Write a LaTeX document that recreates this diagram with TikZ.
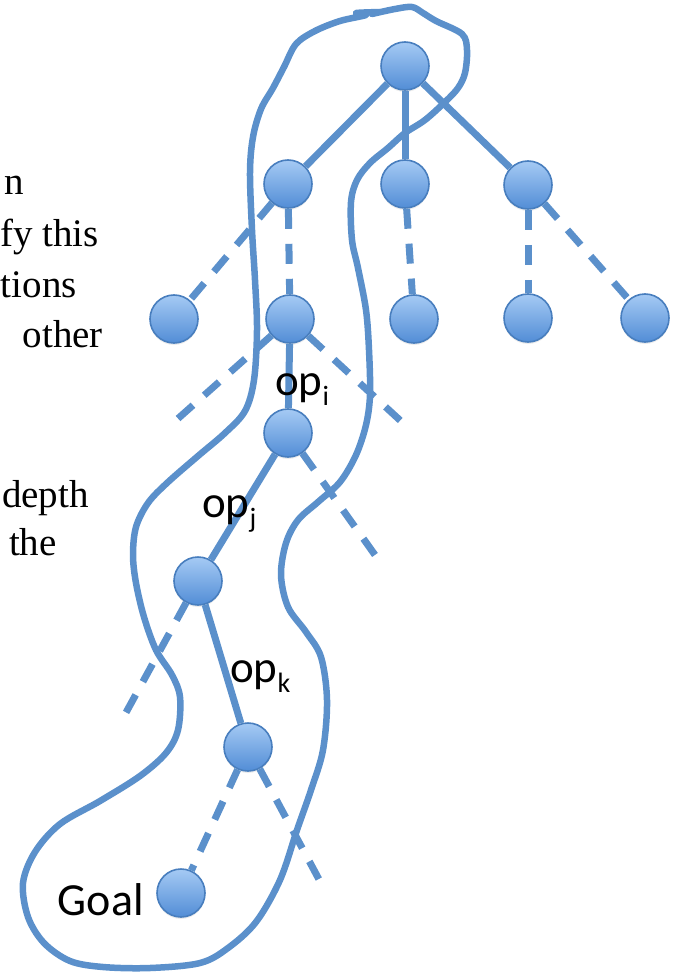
\documentclass[tikz,border=0pt]{standalone}
\usepackage{fontspec}
\setmainfont{Liberation Serif}
\newfontfamily\labelfont{Carlito}
\usetikzlibrary{shadows}

\definecolor{edgeblue}{RGB}{91,144,203}
\definecolor{balltop}{RGB}{165,202,244}
\definecolor{ballbottom}{RGB}{82,141,214}
\definecolor{ballrim}{RGB}{72,126,190}

\tikzset{
  ball/.style={circle, minimum size=48pt, inner sep=0pt, draw=ballrim,
    line width=1.6pt, top color=balltop, bottom color=ballbottom,
    drop shadow={opacity=0.15, shadow xshift=0pt, shadow yshift=-2pt}},
  solidedge/.style={draw=edgeblue, line width=7pt},
  dashededge/.style={draw=edgeblue, line width=7pt, dash pattern=on 20pt off 15pt},
  outline/.style={draw=edgeblue, line width=6.5pt, line join=round, line cap=round},
  oplabel/.style={anchor=base west, inner sep=0pt, font=\labelfont\fontsize{45}{45}\selectfont},
  sidetext/.style={anchor=base east, inner sep=0pt, font=\fontsize{39}{39}\selectfont}
}

\newcommand{\opsub}[1]{op\raisebox{-10pt}{\fontsize{28}{28}\selectfont #1}}

\begin{document}
\begin{tikzpicture}[x=1pt, y=-1pt]
\path[use as bounding box, clip] (0,0) rectangle (675,976);

% lines of body text on the left
\node[sidetext] (t1) at (24,195) {n};
\node[sidetext] (t2) at (99,247) {fy this};
\node[sidetext] (t3) at (77,297) {tions};
\node[sidetext] (t4) at (103,347) {other};
\node[sidetext] (t5) at (89,507) {depth};
\node[sidetext] (t6) at (57,555) {the};

% search tree
\node[ball] (root) at (405,66) {};
\node[ball] (a) at (288,184) {};
\node[ball] (b) at (405,184) {};
\node[ball] (c) at (528,185) {};
\node[ball] (d) at (174,319) {};
\node[ball] (e) at (290,319) {};
\node[ball] (f) at (414,319) {};
\node[ball] (g) at (528,318) {};
\node[ball] (h) at (645,318) {};
\node[ball] (i) at (288,433) {};
\node[ball] (j) at (198,581) {};
\node[ball] (k) at (248,747) {};
\node[ball] (goal) at (181,893) {};

% open ends of unexplored branches
\coordinate (e1) at (173,423);
\coordinate (e2) at (403,423);
\coordinate (i1) at (380,562);
\coordinate (j1) at (123,718);
\coordinate (k1) at (322,885);

\draw[solidedge] (root) -- (a);
\draw[solidedge] (root) -- (b);
\draw[solidedge] (root) -- (c);
\draw[dashededge] (a) -- (d);
\draw[dashededge] (a) -- (e);
\draw[dashededge] (b) -- (f);
\draw[dashededge] (c) -- (g);
\draw[dashededge] (c) -- (h);
\draw[solidedge] (e) -- (i);
\draw[dashededge] (e) -- (e1);
\draw[dashededge] (e) -- (e2);
\draw[solidedge] (i) -- (j);
\draw[dashededge] (i) -- (i1);
\draw[solidedge] (j) -- (k);
\draw[dashededge] (j) -- (j1);
\draw[dashededge] (k) -- (goal);
\draw[dashededge] (k) -- (k1);

% operator labels
\node[oplabel] (opi) at (275,395) {\opsub{i}};
\node[oplabel] (opj) at (202,517) {\opsub{j}};
\node[oplabel] (opk) at (230,682) {\opsub{k}};
\node[anchor=base east, inner sep=0pt, font=\labelfont\fontsize{46}{46}\selectfont] (goaltext) at (144,915) {Goal};

% hand-drawn loop around the solution path
\draw[outline] plot[smooth, tension=0.55] coordinates {
  (372,14) (395,9) (412,7) (423,13) (436,21) (462,34) (467,50) (465,73)
  (458,88) (445,102) (425,120) (405,133) (388,148) (370,163) (357,180)
  (351,202) (352,240) (358,268) (366,310) (369,350) (370,395) (366,425)
  (356,455) (340,482) (318,502) (298,520) (286,543) (281,575) (288,607)
  (306,632) (321,657) (327,700) (323,750) (311,790) (297,830) (280,880)
  (256,922) (228,948) (200,963) (150,968) (103,967) (70,961) (44,943)
  (28,917) (23,883) (35,852) (60,824) (100,801) (140,776) (166,753)
  (178,730) (180,697) (172,675) (156,650) (144,617) (136,583) (133,555)
  (136,527) (148,503) (167,483) (198,456) (225,433) (245,411) (254,380)
  (257,330) (255,280) (252,230) (250,172) (253,137) (261,109) (273,88)
  (284,67) (296,44) (315,31) (340,21) (366,15) (356,13) (380,12)};
\end{tikzpicture}
\end{document}
